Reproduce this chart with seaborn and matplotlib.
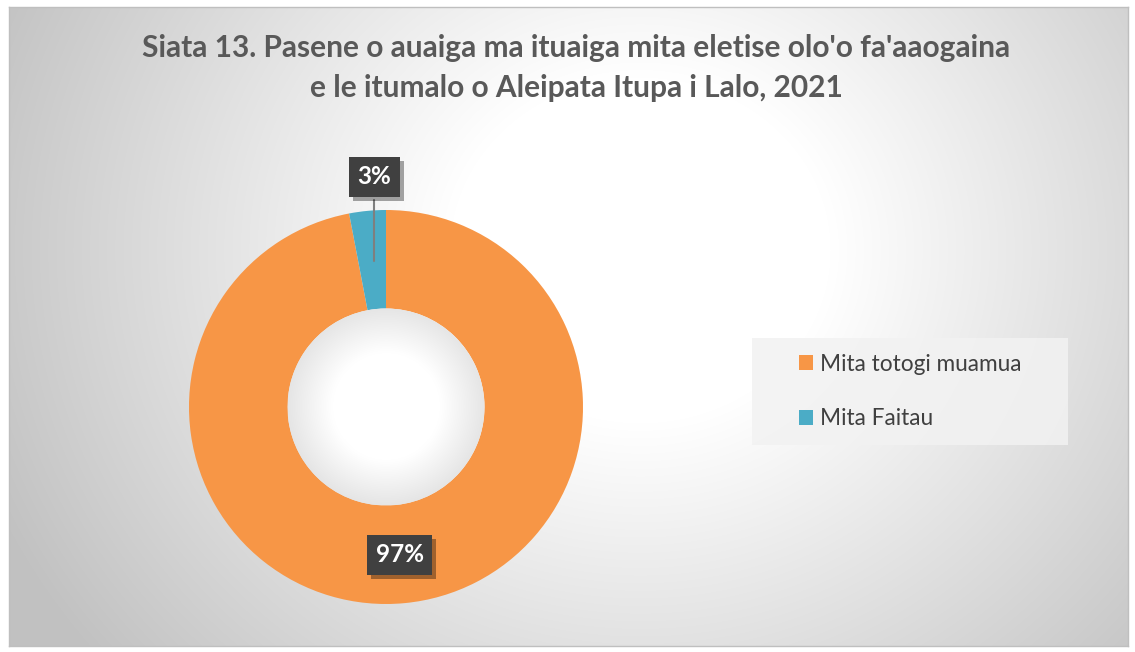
import numpy as np
import matplotlib.pyplot as plt
import matplotlib.patheffects as pe
import seaborn as sns
from matplotlib.patches import Rectangle, Circle

sns.set_theme(style="white")
plt.rcParams['font.family'] = ['Lato', 'DejaVu Sans']

# data
labels = ["Mita totogi muamua", "Mita Faitau"]
values = [97, 3]
pct_labels = ["97%", "3%"]
colors = ["#F79646", "#4BACC6"]
title = "Siata 13. Pasene o auaiga ma ituaiga mita eletise olo'o fa'aaogaina\ne le itumalo o Aleipata Itupa i Lalo, 2021"

W, H = 1135, 652
fig = plt.figure(figsize=(W / 100, H / 100), dpi=100)
fig.patch.set_facecolor("white")

# background frame with radial gradient (white centre, grey edges)
x0, x1, y0, y1 = 9, 1128, 7, 646
bg = fig.add_axes([x0 / W, 1 - y1 / H, (x1 - x0) / W, (y1 - y0) / H])
yy, xx = np.mgrid[y0:y1, x0:x1]
d = np.hypot(xx - 640, (yy - 250) * 1.1)
g = np.clip(1.0 - 0.22 * np.clip(d - 190, 0, None) / 470, 0.76, 1.0)
bg.imshow(np.dstack([g, g, g]), aspect="auto", extent=[0, 1, 0, 1], origin="upper")
bg.set_xlim(0, 1); bg.set_ylim(0, 1)
bg.set_xticks([]); bg.set_yticks([])
for s in bg.spines.values():
    s.set_color("#bfbfbf"); s.set_linewidth(1)

fig.text(576 / W, 1 - 68 / H, title, ha="center", va="center", fontsize=21.5,
         fontweight="bold", color="#595959", linespacing=1.5)

# donut
r = 197
ax = fig.add_axes([(386 - r) / W, 1 - (407 + r) / H, 2 * r / W, 2 * r / H])
wedges, _ = ax.pie(values, colors=colors, startangle=90, counterclock=False,
                   wedgeprops=dict(width=0.5, edgecolor="none"))
# hole with its own soft gradient
hy, hx = np.mgrid[-1:1:200j, -1:1:200j]
hd = np.hypot(hx, hy)
hg = np.clip(1.0 - 0.10 * np.clip(hd - 0.55, 0, None) / 0.45, 0.9, 1.0)
im = ax.imshow(np.dstack([hg, hg, hg]), extent=[-0.5, 0.5, -0.5, 0.5], zorder=3)
im.set_clip_path(Circle((0, 0), 0.5, transform=ax.transData))
ax.set_xlim(-1, 1); ax.set_ylim(-1, 1)
ax.set_aspect("equal")
ax.axis("off")


def label(x, y, s):
    box = dict(boxstyle="square,pad=0.35", fc="#404040", ec="none")
    t = ax.text(x, y, s, ha="center", va="center", fontsize=17.5,
                fontweight="bold", color="white", bbox=box, zorder=6, clip_on=False)
    t.get_bbox_patch().set_path_effects(
        [pe.SimplePatchShadow(offset=(3, -3), shadow_rgbFace="black", alpha=0.35),
         pe.Normal()])


label(0.07, -0.75, pct_labels[0])
# 3% label with leader line
ax.plot([-0.06, -0.06], [0.74, 1.05], color="#7f7f7f", lw=1.5, zorder=4,
        clip_on=False)
label(-0.06, 1.17, pct_labels[1])

# legend
lg = fig.add_axes([752 / W, 1 - 445 / H, (1068 - 752) / W, (445 - 338) / H])
lg.set_xlim(0, 1); lg.set_ylim(0, 1)
lg.add_patch(Rectangle((0, 0), 1, 1, fc="#f2f2f2", ec="none", alpha=0.85))
lg.axis("off")
leg = lg.legend(wedges, labels, loc="center left", bbox_to_anchor=(0.148, 0.5),
                frameon=False, fontsize=16.3, borderaxespad=0, borderpad=0,
                handlelength=0.65, handleheight=0.65, handletextpad=0.3,
                labelspacing=1.5, labelcolor="#404040")

fig.savefig("out.png", dpi=100)
